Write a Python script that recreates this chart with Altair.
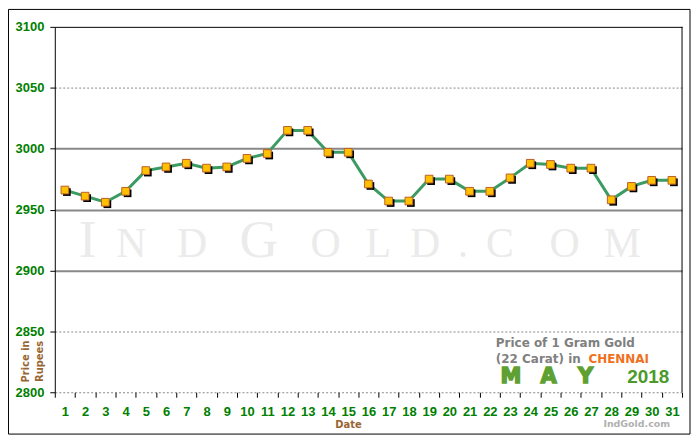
import altair as alt
import pandas as pd

# ---- data ----
days = list(range(1, 32))
prices = [2966, 2961, 2956, 2965, 2982, 2985, 2988, 2984, 2985, 2992, 2996,
          3015, 3015, 2997, 2997, 2971, 2957, 2957, 2975, 2975, 2965, 2965,
          2976, 2988, 2987, 2984, 2984, 2958, 2969, 2974, 2974]
y_ticks = [2800, 2850, 2900, 2950, 3000, 3050, 3100]
city = "CHENNAI"
month = "MAY"
year = "2018"

df = pd.DataFrame({"Day": days, "Price": prices})
one = pd.DataFrame({"k": [0]})

W, H = 630, 367
LAB = "Liberation Sans"
GREEN = "#008000"
BROWN = "#996633"

x = alt.X("Day:O", sort=days,
          scale=alt.Scale(paddingInner=0, paddingOuter=0),
          axis=alt.Axis(title=None, labelAngle=0, tickBand="extent", domain=False,
                        tickColor="black", tickSize=5, labelColor=GREEN,
                        labelFont=LAB, labelFontSize=13, labelFontWeight="bold",
                        labelPadding=8, grid=False))
y = alt.Y("Price:Q",
          scale=alt.Scale(domain=[2800, 3100], nice=False, zero=False),
          axis=alt.Axis(values=y_ticks, format="d", title=None, domainColor="black",
                        tickColor="black", tickSize=5, labelColor=GREEN,
                        labelFont=LAB, labelFontSize=13, labelFontWeight="bold",
                        labelPadding=6,
                        gridColor={"condition": {"test": "datum.value == 3100", "value": "black"},
                                   "value": "#888888"},
                        gridDash={"condition": {"test": "datum.value == 3050 || datum.value <= 2850",
                                                "value": [2, 2]},
                                  "value": []},
                        gridWidth={"condition": {"test": "datum.value == 3050 || datum.value <= 2850 || datum.value == 3100",
                                                 "value": 1},
                                   "value": 2}))

layers = []

# watermark (small caps)
wm = [("I", 33, 54), ("N", 77, 42), ("D", 138, 42), ("G", 205, 54), ("O", 272, 42),
      ("L", 325, 42), ("D", 372, 42), (".", 410, 42), ("C", 447, 42), ("O", 512, 42),
      ("M", 570, 42)]
for ch, px, fs in wm:
    layers.append(alt.Chart(one).mark_text(font="Liberation Serif", fontSize=fs,
                                           color="#ebebeb", align="center",
                                           baseline="alphabetic").encode(
        x=alt.value(px), y=alt.value(231), text=alt.value(ch)))

base = alt.Chart(df).encode(x=x, y=y)
layers.append(base.mark_line(color="#3c9b63", strokeWidth=3))
layers.append(base.mark_square(color="black", size=60, opacity=1, xOffset=2, yOffset=2))
layers.append(base.mark_square(fill="#FFC000", stroke="#B8602A", strokeWidth=1,
                               size=60, opacity=1))

# right border of plot
layers.append(alt.Chart(one).mark_rule(color="black").encode(
    x=alt.value(W), y=alt.value(0), y2=alt.value(H)))

# outer frame
layers.append(alt.Chart(one).mark_rect(fillOpacity=0, stroke="black", strokeWidth=1).encode(
    x=alt.value(-46.5), x2=alt.value(638), y=alt.value(-17.5), y2=alt.value(409)))

def txt(s, px, py, **kw):
    return alt.Chart(one).mark_text(**kw).encode(x=alt.value(px), y=alt.value(py),
                                                 text=alt.value(s))

# legend block
layers.append(txt("Price of 1 Gram Gold", 443, 322, font="DejaVu Sans", fontSize=12,
                  fontWeight="bold", color="#808080", align="left", baseline="alphabetic"))
layers.append(txt("(22 Carat) in", 443, 338, font="DejaVu Sans", fontSize=12,
                  fontWeight="bold", color="#808080", align="left", baseline="alphabetic"))
layers.append(txt(city, 536, 338, font="DejaVu Sans", fontSize=12,
                  fontWeight="bold", color="#F07020", align="left", baseline="alphabetic"))
for ch, px in zip(month, [458, 496, 533]):
    layers.append(txt(ch, px, 358, font="DejaVu Sans", fontSize=21, fontWeight="bold",
                      color="#5FA032", stroke="#5FA032", strokeWidth=1.5,
                      align="center", baseline="alphabetic"))
layers.append(txt(year, 575, 358, font=LAB, fontSize=19, fontWeight="bold",
                  color="#4C9A2A", align="left", baseline="alphabetic"))
layers.append(txt("IndGold.com", 551, 402, font="DejaVu Sans", fontSize=9.5,
                  fontWeight="bold", color="#B0B0B0", align="left", baseline="alphabetic"))

# axis titles
layers.append(txt("Date", 295, 403, font="DejaVu Sans", fontSize=10, fontWeight="bold",
                  color=BROWN, align="center", baseline="alphabetic"))
layers.append(txt("Price in", -29, 336, font="DejaVu Sans", fontSize=10, fontWeight="bold",
                  color=BROWN, align="center", baseline="middle", angle=270))
layers.append(txt("Rupees", -15, 336, font="DejaVu Sans", fontSize=10, fontWeight="bold",
                  color=BROWN, align="center", baseline="middle", angle=270))

chart = alt.layer(*layers).properties(
    width=W, height=H, autosize="none",
    padding={"left": 47, "top": 18, "right": 10, "bottom": 45},
    background="white",
).configure_view(stroke=None)

chart.save("out.html", embed_options={"renderer": "svg", "actions": False})
